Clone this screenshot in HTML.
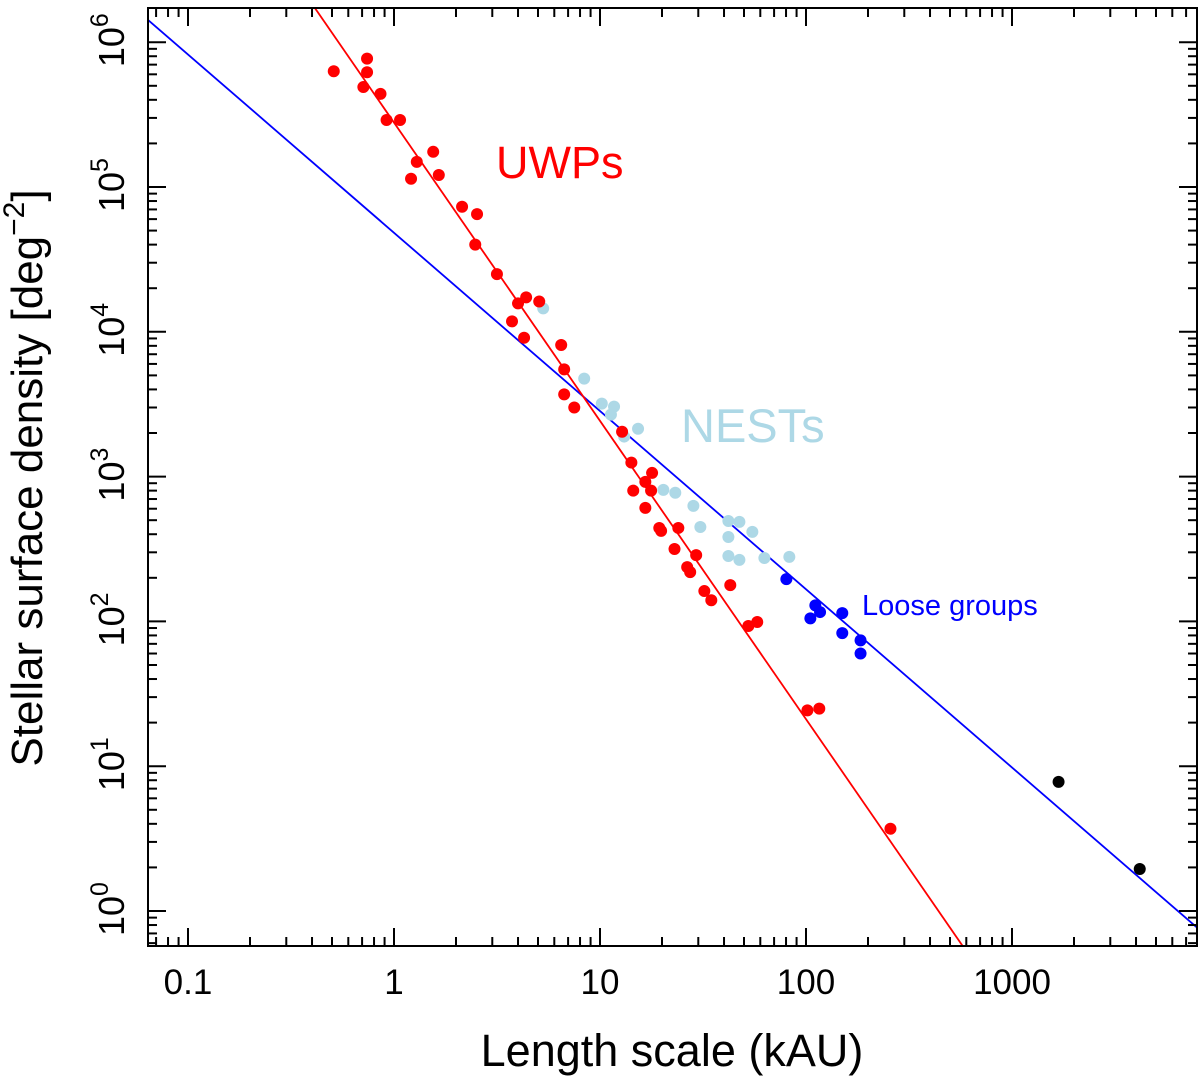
<!DOCTYPE html>
<html><head><meta charset="utf-8"><style>
html,body{margin:0;background:#fff;overflow:hidden;width:1200px;height:1082px}
svg{display:block;font-family:"Liberation Sans",Arial,sans-serif}
</style></head><body>
<svg id="chart" width="1200" height="1082" viewBox="0 0 1200 1082" xmlns="http://www.w3.org/2000/svg">
<g id="plot"></g>
</svg>
<script>
const redX=[0.51,0.74,0.74,0.71,0.86,0.92,1.07,1.55,1.29,1.21,1.65,2.14,2.53,2.48,3.16,4.38,4.0,5.07,3.74,4.28,6.48,6.70,6.70,7.50,12.8,14.2,17.9,16.6,17.7,14.5,16.6,19.4,19.8,24.0,23.0,29.3,26.5,27.4,32.1,34.7,42.9,52.5,58.0,101.6,116,257];
const redY=[6.3e5,7.7e5,6.2e5,4.9e5,4.4e5,2.9e5,2.9e5,1.75e5,1.49e5,1.14e5,1.21e5,7.3e4,6.5e4,4.0e4,2.5e4,1.73e4,1.57e4,1.62e4,1.18e4,9.1e3,8.1e3,5.5e3,3.7e3,3.0e3,2.04e3,1250,1060,920,800,800,608,442,422,442,316,287,237,219,162,140,178,93,99,24.3,25,3.7];
const nestX=[5.30,8.38,10.2,11.7,11.3,13.1,15.3,20.3,23.2,28.4,30.7,42.0,47.5,54.9,42.0,42.0,47.5,62.8,83.0];
const nestY=[1.45e4,4750,3190,3040,2680,1890,2140,810,773,628,449,494,487,415,383,283,266,274,279];
const looseX=[80.3,111,117,105,150,150,184,184];
const looseY=[196,129,116,105,114,83,74,60];
const blackX=[1683,4170];
const blackY=[7.8,1.95];
const redFit=[5.445,-2.06];
const blueFit=[4.684,-1.231];
const xTicks=[0.1,1,10,100,1000];
const xTickLabels=["0.1","1","10","100","1000"];
const yTickExp=[0,1,2,3,4,5,6];

const L=148,R=1197,T=8,B=946;
const X=v=>394+206*Math.log10(v);
const Y=v=>911-144.8*Math.log10(v);
const NS="http://www.w3.org/2000/svg";
const g=document.getElementById('plot');
function mk(tag,attrs,parent){const e=document.createElementNS(NS,tag);for(const k in attrs)e.setAttribute(k,attrs[k]);(parent||g).appendChild(e);return e;}

const defs=mk('defs',{});
const cp=mk('clipPath',{id:'clip'},defs);
mk('rect',{x:L,y:T,width:R-L,height:B-T},cp);

function fitLine(f,color,name){
  const x0=0.05,x1=10000;
  const l=mk('line',{x1:X(x0),y1:Y(Math.pow(10,f[0]+f[1]*Math.log10(x0))),x2:X(x1),y2:Y(Math.pow(10,f[0]+f[1]*Math.log10(x1))),stroke:color,'stroke-width':1.8,'clip-path':'url(#clip)'});
  
  
}
fitLine(blueFit,'#0000ff','blue-fit-line');
fitLine(redFit,'#ff0000','red-fit-line');

function pts(xs,ys,color,name){
  const grp=mk('g',{});
  
  
  xs.forEach((x,i)=>{
    const c=mk('circle',{cx:X(x),cy:Y(ys[i]),r:6,fill:color},grp);
    
    
  });
}
pts(nestX,nestY,'#add8e6','nests');
pts(redX,redY,'#ff0000','uwps');
pts(looseX,looseY,'#0000ff','loose-groups');
pts(blackX,blackY,'#000000','outlier');

const fr=mk('rect',{x:L,y:T,width:R-L,height:B-T,fill:'none',stroke:'#000','stroke-width':2});



const tk=mk('g',{stroke:'#000','stroke-width':2});
for(let d=-2;d<=4;d++){for(let m=1;m<10;m++){const v=m*Math.pow(10,d);const px=X(v);if(px<L+1||px>R-1)continue;const len=m==1?18:9;
  mk('line',{x1:px,y1:B,x2:px,y2:B-len},tk);mk('line',{x1:px,y1:T,x2:px,y2:T+len},tk);}}
for(let d=-1;d<=6;d++){for(let m=1;m<10;m++){const v=m*Math.pow(10,d);const py=Y(v);if(py<T+1||py>B-1)continue;const len=m==1?18:9;
  mk('line',{x1:L,y1:py,x2:L+len,y2:py},tk);mk('line',{x1:R,y1:py,x2:R-len,y2:py},tk);}}

xTicks.forEach((v,i)=>{
  const t=mk('text',{x:X(v),y:994,'font-size':35,'text-anchor':'middle',fill:'#000'});
  t.textContent=xTickLabels[i];
  
  
});
yTickExp.forEach(e=>{
  const t=mk('text',{transform:`translate(124,${Y(Math.pow(10,e))-2}) rotate(-90)`,'font-size':36,'text-anchor':'middle',fill:'#000'});
  
  
  const a=mk('tspan',{},t);a.textContent='10';
  const b=mk('tspan',{'font-size':25,dy:-16},t);b.textContent=String(e);
});

function label(txt,x,y,size,color,name){
  const t=mk('text',{x:x,y:y,'font-size':size,fill:color});
  t.textContent=txt;
  
  
  return t;
}
label('UWPs',496,178,45,'#ff0000','uwps-label');
label('NESTs',681,442,47,'#add8e6','nests-label');
label('Loose groups',862,615,29,'#0000ff','loose-groups-label');
const xt=label('Length scale (kAU)',672,1066,45,'#000','x-axis-title');xt.setAttribute('text-anchor','middle');
const yt=mk('text',{transform:'translate(42,478) rotate(-90)','font-size':44,'text-anchor':'middle',fill:'#000'});


const y1=mk('tspan',{},yt);y1.textContent='Stellar surface density [deg';
const y2=mk('tspan',{'font-size':30,dy:-18},yt);y2.textContent='−2';
const y3=mk('tspan',{dy:18},yt);y3.textContent=']';
</script>
</body></html>
